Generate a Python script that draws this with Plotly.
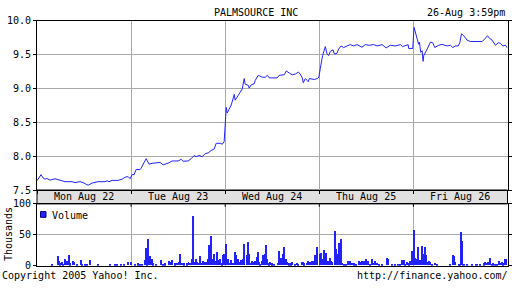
import plotly.graph_objects as go

# ---------------- data ----------------
# time in trading-day units (0 = Mon open, 5 = Fri close)
price_t = [0, 0.043, 0.064, 0.085, 0.106, 0.138, 0.191, 0.245, 0.298, 0.372, 0.404, 0.457, 0.489, 0.543,
           0.585, 0.649, 0.723, 0.745, 0.766, 0.798, 0.862, 0.904, 0.936, 0.968, 0.989,
           1.011, 1.032, 1.053, 1.096, 1.106, 1.138, 1.160, 1.191, 1.213, 1.234, 1.309, 1.340, 1.394, 1.436,
           1.500, 1.532, 1.553, 1.606, 1.638, 1.670, 1.691, 1.723, 1.755, 1.787, 1.819, 1.851, 1.883, 1.904,
           1.947, 1.968, 1.989,
           2.003, 2.011, 2.021, 2.043, 2.064, 2.096, 2.106, 2.138, 2.160, 2.181, 2.202, 2.213, 2.245, 2.255,
           2.277, 2.309, 2.319, 2.351, 2.394, 2.426, 2.447, 2.468, 2.553, 2.574, 2.628, 2.649, 2.681, 2.713,
           2.745, 2.777, 2.798, 2.819, 2.830, 2.851, 2.872, 2.883, 2.894, 2.947, 2.979, 2.995,
           3.011, 3.021, 3.035, 3.064, 3.082, 3.099, 3.117, 3.146, 3.160, 3.188, 3.205, 3.231, 3.259, 3.295,
           3.330, 3.365, 3.401, 3.454, 3.489, 3.532, 3.578, 3.614, 3.667, 3.710, 3.755, 3.809, 3.862, 3.886,
           3.915, 3.944, 3.950, 3.993,
           4.007, 4.029, 4.039, 4.056, 4.064, 4.078, 4.093, 4.103, 4.110, 4.120, 4.146, 4.181, 4.205, 4.227,
           4.269, 4.305, 4.358, 4.394, 4.418, 4.447, 4.476, 4.493, 4.511, 4.535, 4.571, 4.606, 4.731, 4.759,
           4.787, 4.809, 4.837, 4.872, 4.901, 4.926, 4.950, 4.979, 4.997]
price = [7.637, 7.727, 7.680, 7.660, 7.670, 7.646, 7.666, 7.642, 7.623, 7.623, 7.609, 7.623, 7.609, 7.571,
         7.603, 7.623, 7.623, 7.637, 7.623, 7.642, 7.642, 7.660, 7.688, 7.698, 7.666,
         7.727, 7.727, 7.802, 7.802, 7.822, 7.907, 7.963, 7.882, 7.892, 7.897, 7.907, 7.873, 7.897, 7.929,
         7.929, 7.953, 7.925, 7.929, 7.963, 8.010, 7.992, 8.010, 7.992, 8.038, 8.048, 8.085, 8.105, 8.190,
         8.190, 8.176, 8.212,
         8.567, 8.722, 8.637, 8.708, 8.756, 8.912, 8.827, 8.898, 8.945, 8.992, 9.147, 9.062, 9.048, 9.006,
         9.054, 9.072, 9.119, 9.195, 9.167, 9.167, 9.195, 9.157, 9.157, 9.195, 9.204, 9.261, 9.228, 9.204,
         9.214, 9.242, 9.214, 9.157, 9.086, 9.147, 9.119, 9.101, 9.147, 9.133, 9.147, 9.167,
         9.299, 9.394, 9.487, 9.620, 9.511, 9.487, 9.550, 9.572, 9.511, 9.520, 9.582, 9.629, 9.606, 9.629,
         9.649, 9.629, 9.649, 9.610, 9.649, 9.639, 9.649, 9.629, 9.649, 9.601, 9.639, 9.629, 9.649, 9.620,
         9.639, 9.649, 9.592, 9.592,
         9.904, 9.795, 9.724, 9.653, 9.686, 9.535, 9.558, 9.402, 9.487, 9.511, 9.582, 9.686, 9.677, 9.606,
         9.639, 9.653, 9.629, 9.639, 9.606, 9.629, 9.629, 9.677, 9.809, 9.780, 9.714, 9.695, 9.695, 9.734,
         9.780, 9.742, 9.714, 9.639, 9.677, 9.667, 9.629, 9.639, 9.601]

vol_t = [0.156, 0.227, 0.237, 0.248, 0.269, 0.280, 0.298, 0.309, 0.319, 0.333, 0.344, 0.354, 0.386, 0.397,
         0.422, 0.468, 0.482, 0.511, 0.529, 0.564, 0.652, 0.777, 0.830, 0.848, 0.894, 0.929, 0.971,
         1.000, 1.043, 1.078, 1.093, 1.114, 1.149, 1.160, 1.173, 1.184, 1.202, 1.213, 1.227, 1.237, 1.263,
         1.319, 1.344, 1.362, 1.404, 1.426, 1.439, 1.468, 1.489, 1.511, 1.521, 1.539, 1.561, 1.593, 1.610,
         1.628, 1.646, 1.652, 1.663, 1.673, 1.688, 1.699, 1.716, 1.731, 1.752, 1.769, 1.787, 1.805, 1.822,
         1.833, 1.844, 1.859, 1.876, 1.886, 1.897, 1.912, 1.922, 1.947, 1.965, 1.976, 1.986,
         2.007, 2.018, 2.035, 2.046, 2.064, 2.088, 2.099, 2.110, 2.124, 2.141, 2.160, 2.170, 2.184, 2.195,
         2.205, 2.231, 2.241, 2.252, 2.266, 2.284, 2.301, 2.312, 2.327, 2.337, 2.348, 2.362, 2.372, 2.390,
         2.404, 2.418, 2.429, 2.443, 2.461, 2.479, 2.497, 2.514, 2.556, 2.567, 2.578, 2.593, 2.610, 2.628,
         2.641, 2.656, 2.678, 2.699, 2.713, 2.745, 2.763, 2.777, 2.812, 2.827, 2.840, 2.869, 2.883, 2.897,
         2.912, 2.926, 2.940, 2.954, 2.971,
         3.003, 3.018, 3.032, 3.046, 3.061, 3.074, 3.088, 3.099, 3.110, 3.124, 3.138, 3.170, 3.181, 3.195,
         3.205, 3.216, 3.227, 3.241, 3.259, 3.287, 3.301, 3.316, 3.330, 3.348, 3.372, 3.394, 3.422, 3.436,
         3.454, 3.479, 3.500, 3.521, 3.543, 3.564, 3.578, 3.596, 3.614, 3.631, 3.667, 3.720, 3.731, 3.773,
         3.809, 3.833, 3.854, 3.883, 3.897, 3.915, 3.933, 3.950, 3.968, 3.982, 3.993,
         4.007, 4.018, 4.032, 4.046, 4.056, 4.074, 4.093, 4.106, 4.120, 4.131, 4.146, 4.163, 4.181, 4.199,
         4.234, 4.252, 4.394, 4.420, 4.431, 4.447, 4.482, 4.493, 4.503, 4.514, 4.529, 4.543, 4.571, 4.624,
         4.660, 4.677, 4.705, 4.748, 4.766, 4.777, 4.791, 4.805, 4.819, 4.830, 4.848, 4.862, 4.890, 4.908,
         4.926, 4.943, 4.957, 4.975, 4.986]
volume = [1, 14.6, 6.8, 3.1, 5.2, 2, 9.4, 5.2, 7.3, 6.2, 16.1, 3.1, 7.3, 5.7,
          2, 8.3, 1.6, 1, 1, 8.3, 1, 2, 2, 1, 2, 2, 5.2,
          5.2, 1, 3.1, 1, 2, 8.3, 27.6, 3.1, 43.2, 14.6, 5.2, 9.4, 3.1, 1,
          8.3, 2, 3.1, 7.3, 5.2, 8.3, 3.1, 4.2, 5.2, 17.7, 4.2, 3.1, 3.1, 5.2,
          4.2, 10.9, 5.2, 80.2, 5.7, 9.4, 5.2, 4.2, 14.6, 4.2, 7.3, 5.7, 5.2, 9.4,
          33.3, 47.9, 10.4, 5.2, 18.8, 7.3, 21.4, 8.3, 10.9, 3.1, 16.1, 18.8,
          35.4, 8.3, 10.4, 4.2, 8.3, 4.2, 21.4, 16.1, 7.3, 10.4, 5.2, 8.3, 10.9, 34.4,
          18.8, 16.1, 37.5, 18.8, 4.2, 7.3, 5.2, 7.3, 4.2, 13.5, 21.4, 5.2, 2, 7.3,
          16.1, 18.8, 32.3, 9.4, 3.1, 5.2, 3.1, 1, 4.2, 22.9, 9.4, 11.5, 17.7, 30.2,
          9.4, 5.2, 3.1, 3.1, 5.7, 1, 4.2, 2, 5.7, 5.2, 3.1, 4.2, 7.3, 5.2,
          4.2, 7.3, 6.2, 16.7, 30.2,
          18.8, 19.8, 9.4, 25, 9.4, 19.8, 6.2, 5.2, 11.5, 6.2, 5.2, 55.2, 26.6, 17.7,
          36.5, 9.4, 42.7, 4.2, 1, 2, 6.2, 5.2, 6.2, 4.2, 3.1, 1, 6.2, 5.2,
          6.2, 7.3, 9.4, 6.2, 1, 9.4, 4.2, 7.3, 4.2, 2, 1, 12.5, 10.4, 2,
          2, 2, 2, 8.3, 8.3, 2, 5.2, 3.1, 6.2, 22.9, 21.4,
          58.3, 12.5, 9.4, 30.2, 4.2, 8.3, 31.3, 18.8, 29.2, 16.7, 5.2, 6.2, 5.2, 2,
          4.2, 1, 2, 16.7, 15.6, 5.2, 2, 2, 54.2, 39.6, 1, 1, 1, 2,
          2, 2, 1, 3.1, 5.2, 4.2, 5.2, 4.2, 11.5, 2, 3.1, 2, 2, 7.3,
          4.2, 5.2, 3.1, 9.4, 10.4]

day_pos = [0.5, 1.5, 2.5, 3.5, 4.5]
day_labels = ["Mon Aug 22", "Tue Aug 23", "Wed Aug 24", "Thu Aug 25", "Fri Aug 26"]
price_ticks = [7.5, 8.0, 8.5, 9.0, 9.5, 10.0]
vol_ticks = [0, 50, 100]

# ---------------- layout helpers ----------------
W, H = 512, 288
def px(x):
    return x / W
def py(y):
    return 1 - y / H

FONT = "DejaVu Sans Mono"
BLUE = "#2222ff"
GRID = "#aaaaaa"

X0, X1 = 37, 507.5
P_TOP, P_BOT = 15.5, 192
V_TOP, V_BOT = 206.5, 271

fig = go.Figure()
fig.add_trace(go.Scatter(x=price_t, y=price, mode="lines",
                         line=dict(color=BLUE, width=1), xaxis="x", yaxis="y",
                         hoverinfo="skip", showlegend=False))
fig.add_trace(go.Bar(x=vol_t, y=volume, width=0.0106, marker=dict(color=BLUE, line=dict(width=0)),
                     xaxis="x2", yaxis="y2", showlegend=False, hoverinfo="skip"))

axis_common = dict(showline=True, linecolor="black", linewidth=1, showgrid=True,
                   gridcolor=GRID, gridwidth=1, zeroline=False,
                   tickfont=dict(family=FONT, size=10, color="black"))

fig.update_layout(
    width=W, height=H,
    margin=dict(l=0, r=0, t=0, b=0),
    paper_bgcolor="white", plot_bgcolor="white",
    font=dict(family=FONT, size=10, color="black"),
    bargap=0,
    xaxis=dict(domain=[px(X0), px(X1)], range=[0, 5], tickvals=[0, 1, 2, 3, 4, 5],
               showticklabels=False, ticks="outside", ticklen=3, tickcolor="black",
               mirror=True, anchor="y", **axis_common),
    yaxis=dict(domain=[py(P_BOT), py(P_TOP)], range=[7.5, 10.0], tickvals=price_ticks,
               ticktext=[f"{v:.1f}" for v in price_ticks], ticks="outside", ticklen=3,
               tickcolor="black", mirror="ticks", anchor="x", **axis_common),
    xaxis2=dict(domain=[px(X0), px(X1)], range=[0, 5], tickvals=[0, 1, 2, 3, 4, 5],
                showticklabels=False, ticks="", mirror=True, anchor="y2", matches="x",
                **axis_common),
    yaxis2=dict(domain=[py(V_BOT), py(V_TOP)], range=[-1, 100], tickvals=vol_ticks,
                ticks="outside", ticklen=3, tickcolor="black", mirror="ticks", anchor="x2",
                **axis_common),
)

# date band between the panels
fig.add_shape(type="rect", xref="paper", yref="paper",
              x0=px(X0), x1=px(X1), y0=py(V_TOP), y1=py(P_BOT),
              fillcolor="#e0e0e0", line=dict(color="black", width=1), layer="below")
for d in [1, 2, 3, 4]:
    fig.add_shape(type="line", xref="x", yref="paper", x0=d, x1=d,
                  y0=py(V_TOP), y1=py(V_TOP + 3), line=dict(color="black", width=1))

anns = []
for pos, lab in zip(day_pos, day_labels):
    anns.append(dict(x=pos, xref="x", y=py(199.3), yref="paper", text=lab, showarrow=False,
                     font=dict(family=FONT, size=10, color="black"), xanchor="center", yanchor="middle"))
anns += [
    dict(x=px(256), y=py(7), text="PALMSOURCE INC", xanchor="center"),
    dict(x=px(507), y=py(7), text="26-Aug 3:59pm", xanchor="right"),
    dict(x=px(0), y=py(281), text="Copyright 2005 Yahoo! Inc.", xanchor="left"),
    dict(x=px(510), y=py(281), text="http://finance.yahoo.com/", xanchor="right"),
    dict(x=px(50), y=py(218.5), text="Volume", xanchor="left"),
    dict(x=px(8), y=py(238), text="Thousands", xanchor="center", textangle=-90),
]
for a in anns[len(day_pos):]:
    a.update(xref="paper", yref="paper", showarrow=False, yanchor="middle",
             font=dict(family=FONT, size=10, color="black"))
fig.update_layout(annotations=anns)

# legend swatch
fig.add_shape(type="rect", xref="paper", yref="paper",
              x0=px(40.5), x1=px(46), y0=py(220.5), y1=py(214.5),
              fillcolor=BLUE, line=dict(color="#000080", width=1))

fig.write_html("out.html")
